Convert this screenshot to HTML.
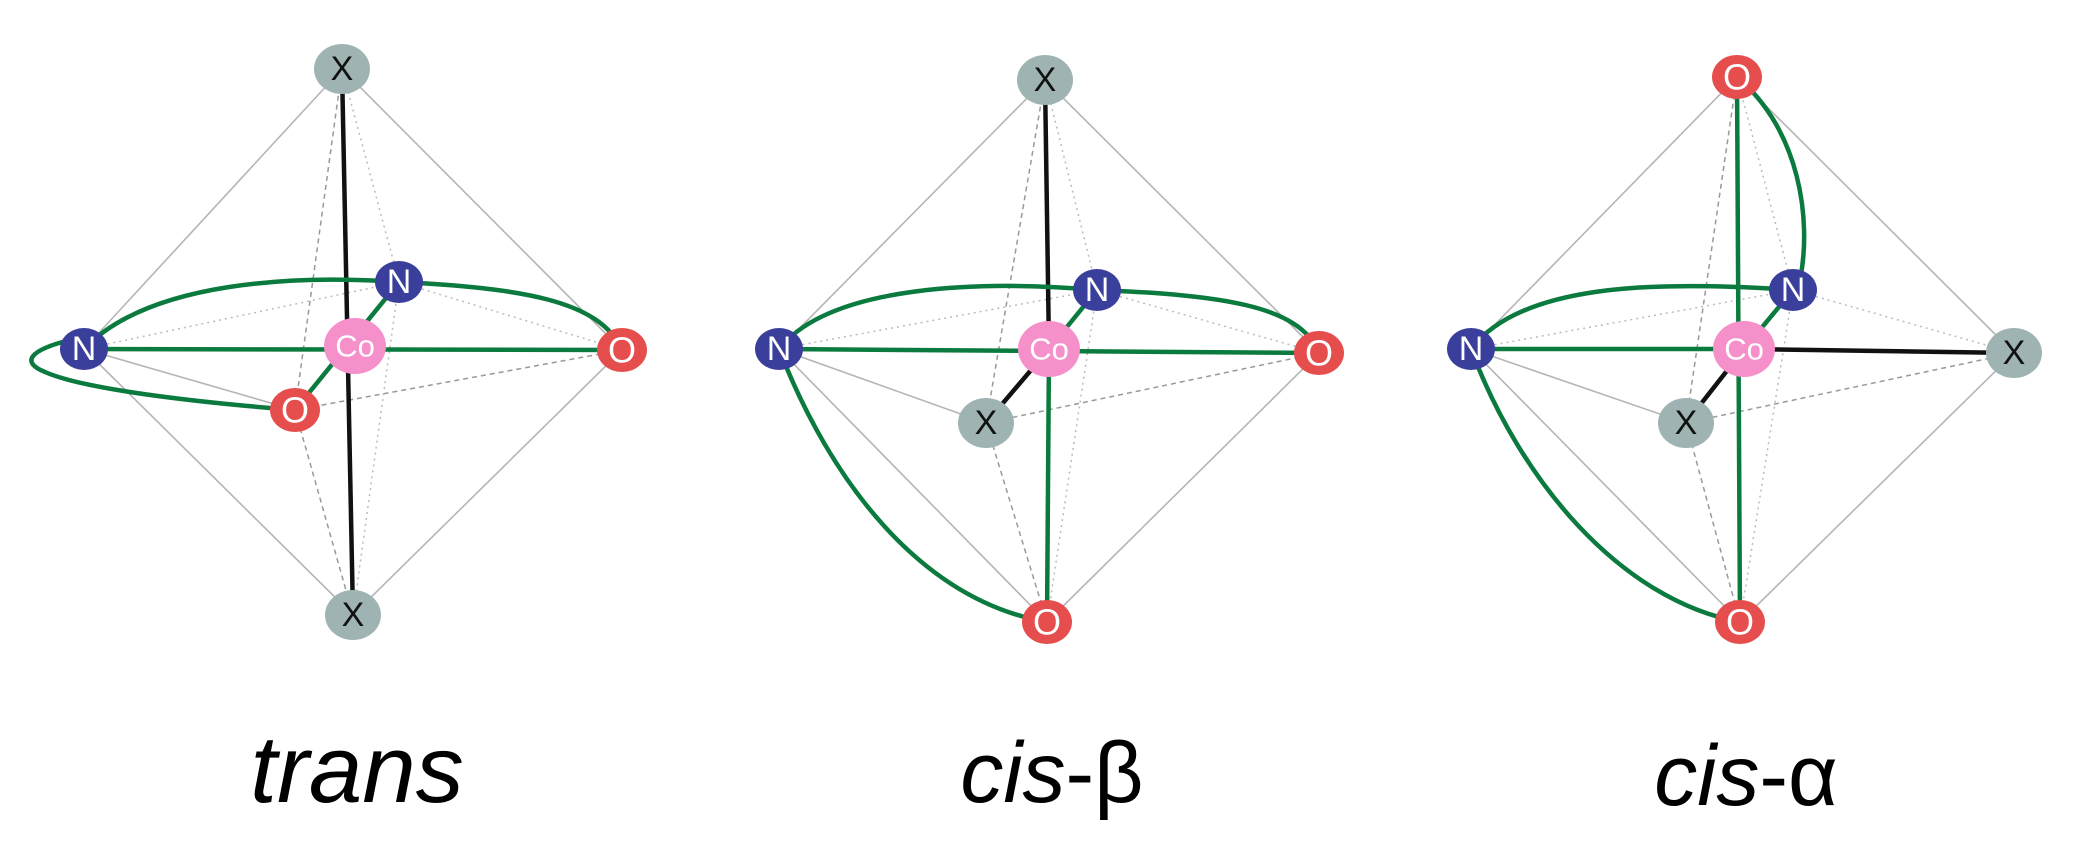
<!DOCTYPE html>
<html><head><meta charset="utf-8"><style>
html,body{margin:0;padding:0;background:#fff;}
svg{display:block;}
text{font-family:"Liberation Sans",sans-serif;}
.e{stroke:#b5b5b5;stroke-width:1.6;fill:none}
.d{stroke:#999;stroke-width:1.5;fill:none;stroke-dasharray:5 4}
.dt{stroke:#bbb;stroke-width:1.5;fill:none;stroke-dasharray:2 4}
.g{stroke:#0b7a3e;stroke-width:4.5;fill:none}
.k{stroke:#111;stroke-width:4.5;fill:none}
.lbl{font-size:34px;text-anchor:middle;dominant-baseline:central}
.big{font-size:86px;text-anchor:middle;fill:#000}
</style></head><body>
<svg width="2087" height="859" viewBox="0 0 2087 859" xmlns="http://www.w3.org/2000/svg">
<defs>
<g id="X"><ellipse rx="28" ry="25" fill="#9fb3b3"/><text class="lbl" fill="#111">X</text></g>
<g id="N"><ellipse rx="24" ry="21" fill="#3a3f9c"/><text class="lbl" fill="#fff">N</text></g>
<g id="O"><ellipse rx="25" ry="22" fill="#e64e4e"/><text class="lbl" fill="#fff" style="font-size:36px">O</text></g>
<g id="C"><ellipse rx="31" ry="28" fill="#f590cb"/><text class="lbl" fill="#fff" style="font-size:31px">Co</text></g>
</defs>

<!-- Panel 1 trans -->
<line class="e" x1="342" y1="69" x2="84" y2="349"/><line class="e" x1="342" y1="69" x2="622" y2="350"/>
<line class="e" x1="353" y1="615" x2="84" y2="349"/><line class="e" x1="353" y1="615" x2="622" y2="350"/>
<line class="e" x1="84" y1="349" x2="295" y2="410"/><line class="d" x1="295" y1="410" x2="622" y2="350"/>
<line class="d" x1="342" y1="69" x2="295" y2="410"/><line class="d" x1="353" y1="615" x2="295" y2="410"/>
<line class="dt" x1="342" y1="69" x2="399" y2="282"/><line class="dt" x1="353" y1="615" x2="399" y2="282"/>
<line class="dt" x1="84" y1="349" x2="399" y2="282"/><line class="dt" x1="399" y1="282" x2="622" y2="350"/>
<line class="k" x1="342" y1="69" x2="353" y2="615"/>
<line class="g" x1="84" y1="349" x2="622" y2="350"/>
<line class="g" x1="295" y1="410" x2="399" y2="282"/>
<path class="g" d="M84,349 C150,280 300,275 399,282 C520,288 600,300 622,350"/>
<path class="g" d="M70,340 C30,350 20,362 45,372 C90,392 230,405 295,410"/>
<use href="#X" x="342" y="69"/><use href="#N" x="399" y="282"/><use href="#N" x="84" y="349"/>
<use href="#O" x="622" y="350"/><use href="#C" x="355" y="346"/><use href="#O" x="295" y="410"/><use href="#X" x="353" y="615"/>
<text class="big" x="357" y="802" font-style="italic" style="font-size:96px">trans</text>

<!-- Panel 2 cis-beta -->
<line class="e" x1="1045" y1="80" x2="779" y2="349"/><line class="e" x1="1045" y1="80" x2="1319" y2="353"/>
<line class="e" x1="1047" y1="622" x2="779" y2="349"/><line class="e" x1="1047" y1="622" x2="1319" y2="353"/>
<line class="e" x1="779" y1="349" x2="986" y2="423"/><line class="d" x1="986" y1="423" x2="1319" y2="353"/>
<line class="d" x1="1045" y1="80" x2="986" y2="423"/><line class="d" x1="1047" y1="622" x2="986" y2="423"/>
<line class="dt" x1="1045" y1="80" x2="1097" y2="290"/><line class="dt" x1="1047" y1="622" x2="1097" y2="290"/>
<line class="dt" x1="779" y1="349" x2="1097" y2="290"/><line class="dt" x1="1097" y1="290" x2="1319" y2="353"/>
<line class="k" x1="1045" y1="80" x2="1049" y2="349"/><line class="k" x1="1049" y1="349" x2="986" y2="423"/>
<line class="g" x1="779" y1="349" x2="1319" y2="353"/>
<line class="g" x1="1049" y1="349" x2="1097" y2="290"/><line class="g" x1="1049" y1="349" x2="1047" y2="622"/>
<path class="g" d="M779,349 C830,285 980,280 1097,290 C1220,295 1300,305 1319,353"/>
<path class="g" d="M779,349 C830,480 920,600 1047,622"/>
<use href="#X" x="1045" y="80"/><use href="#N" x="1097" y="290"/><use href="#N" x="779" y="349"/>
<use href="#O" x="1319" y="353"/><use href="#C" x="1049" y="349"/><use href="#X" x="986" y="423"/><use href="#O" x="1047" y="622"/>
<text class="big" x="1052" y="802"><tspan font-style="italic">cis</tspan>-β</text>

<!-- Panel 3 cis-alpha -->
<line class="e" x1="1737" y1="77" x2="1471" y2="349"/><line class="e" x1="1737" y1="77" x2="2014" y2="353"/>
<line class="e" x1="1740" y1="622" x2="1471" y2="349"/><line class="e" x1="1740" y1="622" x2="2014" y2="353"/>
<line class="e" x1="1471" y1="349" x2="1686" y2="423"/><line class="d" x1="1686" y1="423" x2="2014" y2="353"/>
<line class="d" x1="1737" y1="77" x2="1686" y2="423"/><line class="d" x1="1740" y1="622" x2="1686" y2="423"/>
<line class="dt" x1="1737" y1="77" x2="1793" y2="290"/><line class="dt" x1="1740" y1="622" x2="1793" y2="290"/>
<line class="dt" x1="1471" y1="349" x2="1793" y2="290"/><line class="dt" x1="1793" y1="290" x2="2014" y2="353"/>
<line class="g" x1="1737" y1="77" x2="1740" y2="622"/>
<line class="g" x1="1471" y1="349" x2="1744" y2="349"/>
<line class="k" x1="1744" y1="349" x2="2014" y2="353"/><line class="k" x1="1744" y1="349" x2="1686" y2="423"/>
<line class="g" x1="1744" y1="349" x2="1793" y2="290"/>
<path class="g" d="M1737,77 C1800,130 1812,220 1800,280"/>
<path class="g" d="M1471,349 C1520,285 1650,280 1793,290"/>
<path class="g" d="M1471,349 C1520,480 1620,600 1740,622"/>
<use href="#O" x="1737" y="77"/><use href="#N" x="1793" y="290"/><use href="#N" x="1471" y="349"/>
<use href="#X" x="2014" y="353"/><use href="#C" x="1744" y="349"/><use href="#X" x="1686" y="423"/><use href="#O" x="1740" y="622"/>
<text class="big" x="1746" y="805"><tspan font-style="italic">cis</tspan>-α</text>
</svg>
</body></html>
